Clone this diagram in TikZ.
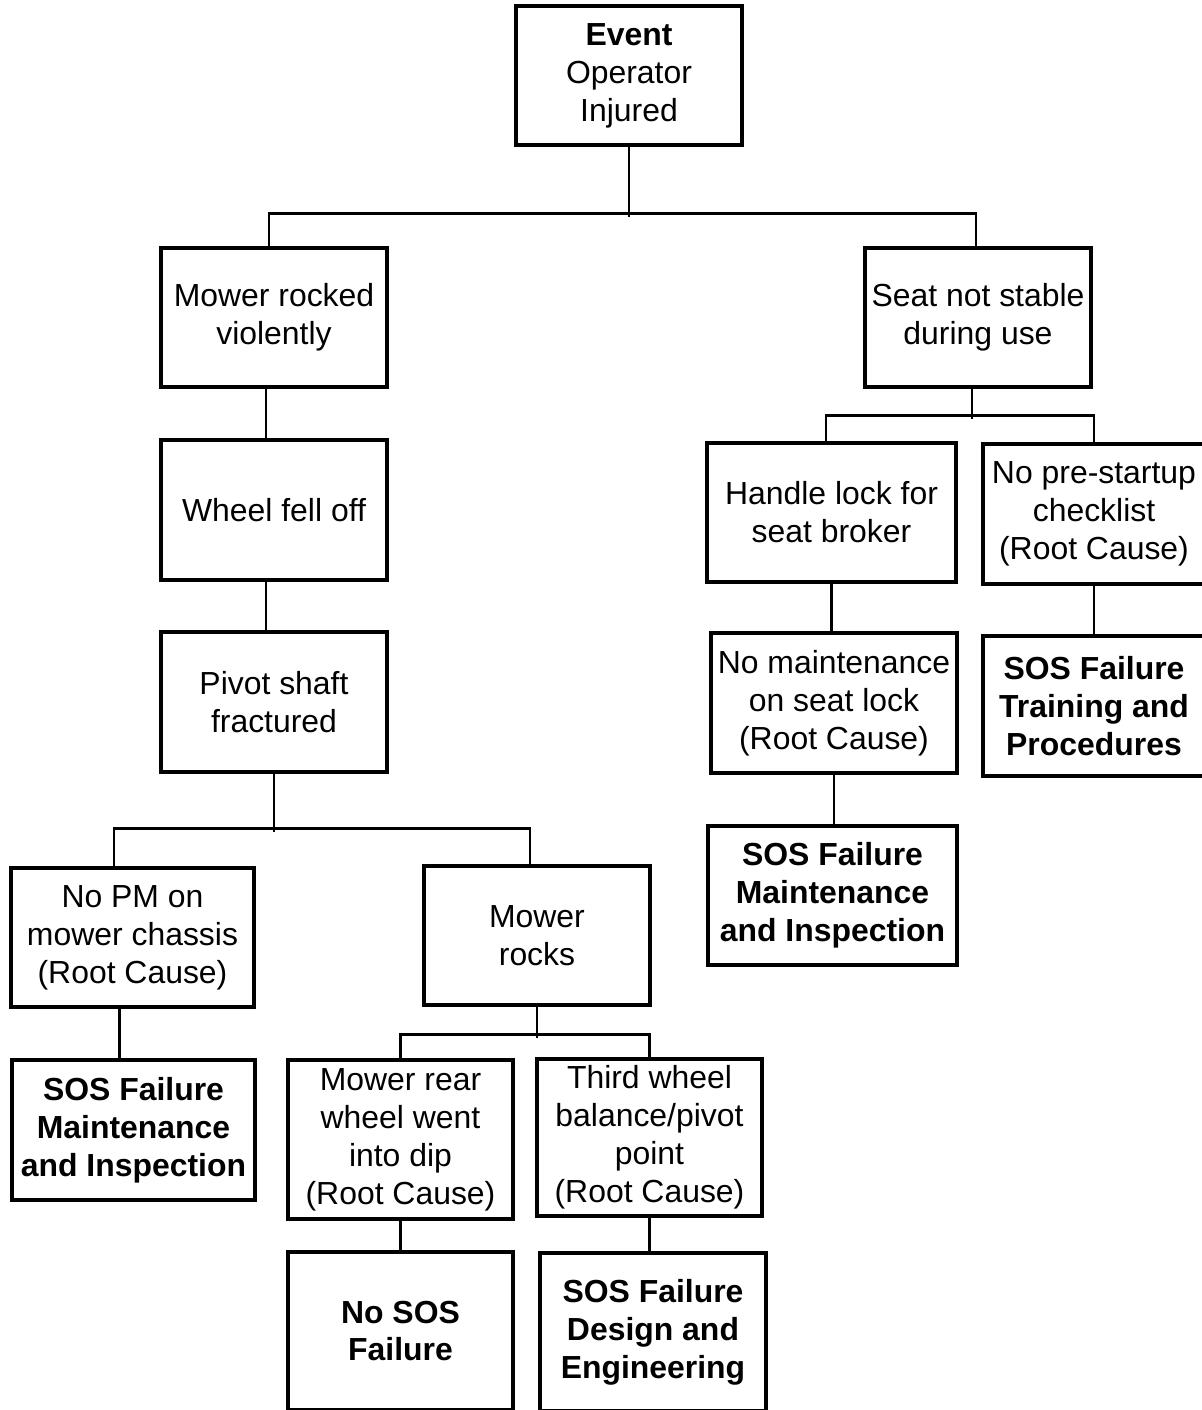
\documentclass[tikz,border=0pt]{standalone}
\usepackage{fontspec}
\setmainfont{Liberation Sans}
\begin{document}
\begin{tikzpicture}[x=0.025cm,y=-0.025cm,
  box/.style={draw, line width=2.2pt, align=center, inner sep=0pt, font=\fontsize{22.7}{27}\selectfont},
  wh/.style 2 args={minimum width=#1*0.025cm, minimum height=#2*0.025cm},
  conn/.style={line width=1.8pt}]
\useasboundingbox (0,0) rectangle (1202,1410);
\clip (0,0) rectangle (1202,1410);
% nodes
\node[box, wh={226}{139}] (ev) at (629,75.5) {\textbf{Event}\\Operator\\Injured};
\node[box, wh={226}{139}] (mr) at (274,317.5) {Mower rocked\\violently};
\node[box, wh={226}{139}] (sn) at (978,317.5) {Seat not stable\\during use};
\node[box, wh={226}{140}] (wf) at (274,510) {Wheel fell off};
\node[box, wh={226}{140}] (ps) at (274,702) {Pivot shaft\\fractured};
\node[box, wh={249}{139}] (hl) at (831.5,512.5) {Handle lock for\\seat broker};
\node[box, wh={222}{140}] (np) at (1094,514) {No pre-startup\\checklist\\(Root Cause)};
\node[box, wh={246}{140}] (nm) at (834,703) {No maintenance\\on seat lock\\(Root Cause)};
\node[box, wh={222}{140}] (st) at (1094,706) {\textbf{SOS Failure}\\\textbf{Training and}\\\textbf{Procedures}};
\node[box, wh={249}{139}] (smr) at (832.5,895.5) {\textbf{SOS Failure}\\\textbf{Maintenance}\\\textbf{and Inspection}};
\node[box, wh={243}{139}] (npm) at (132.5,937.5) {No PM on\\mower chassis\\(Root Cause)};
\node[box, wh={226}{139}] (mk) at (537,935.5) {Mower\\rocks};
\node[box, wh={243}{140}] (sml) at (133.5,1130) {\textbf{SOS Failure}\\\textbf{Maintenance}\\\textbf{and Inspection}};
\node[box, wh={225}{159}] (rw) at (400.5,1139.5) {Mower rear\\wheel went\\into dip\\(Root Cause)};
\node[box, wh={225}{157}] (tw) at (649.5,1137.5) {Third wheel\\balance/pivot\\point\\(Root Cause)};
\node[box, wh={225}{158}] (ns) at (400.5,1331) {\textbf{No SOS}\\\textbf{Failure}};
\node[box, wh={226}{158}] (sd) at (653,1332) {\textbf{SOS Failure}\\\textbf{Design and}\\\textbf{Engineering}};
% connectors
\draw[conn] (ev.south) -- ++(0,70);
\draw[conn] ([xshift=-5*0.025cm]mr.north) -- ++(0,-33) -| ([xshift=-2*0.025cm]sn.north);
\draw[conn] ([xshift=-8*0.025cm]mr.south) -- ([xshift=-8*0.025cm]wf.north);
\draw[conn] ([xshift=-8*0.025cm]wf.south) -- ([xshift=-8*0.025cm]ps.north);
\draw[conn] (ps.south) -- ++(0,58);
\draw[conn] ([xshift=-18.5*0.025cm]npm.north) -- ++(0,-38) -| ([xshift=-7*0.025cm]mk.north);
\draw[conn] ([xshift=-13*0.025cm]npm.south) -- ([xshift=-14*0.025cm]sml.north);
\draw[conn] (mk.south) -- ++(0,31);
\draw[conn] (rw.north) -- ++(0,-24) -| (tw.north);
\draw[conn] (rw.south) -- (rw.south |- ns.north);
\draw[conn] (tw.south) -- (tw.south |- sd.north);
\draw[conn] ([xshift=-6*0.025cm]sn.south) -- ++(0,30);
\draw[conn] ([xshift=-5.5*0.025cm]hl.north) -- ++(0,-26) -| (np.north);
\draw[conn] (hl.south) -- (hl.south |- nm.north);
\draw[conn] (nm.south) -- (nm.south |- smr.north);
\draw[conn] (np.south) -- (np.south |- st.north);
\end{tikzpicture}
\end{document}
